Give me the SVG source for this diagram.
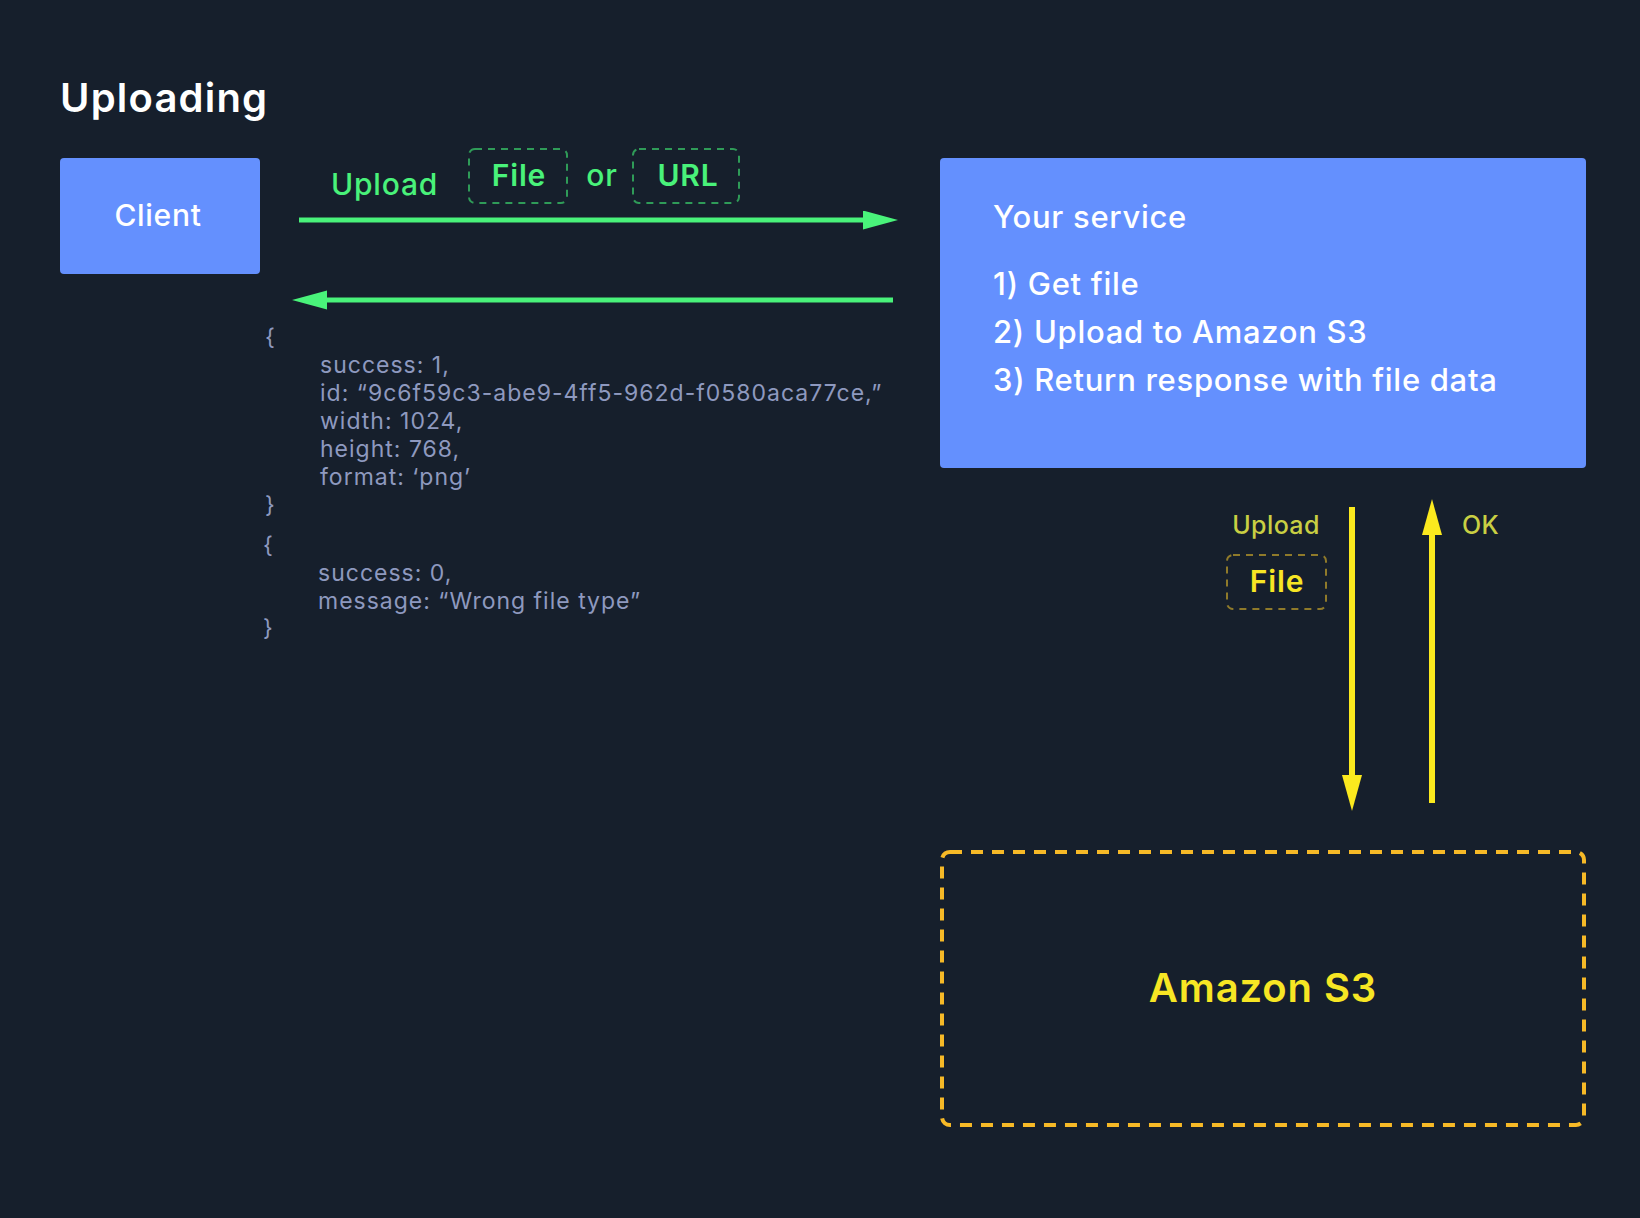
<svg xmlns="http://www.w3.org/2000/svg" width="1640" height="1218" viewBox="0 0 1640 1218">
  <defs>
    <style>
      text { font-family: Inter, "Noto Sans", "Liberation Sans", sans-serif; }
      .box { fill: #6490fe; }
      .title { fill: #ffffff; font-size: 40px; font-weight: 600; letter-spacing: 1.2px; }
      .white { fill: #ffffff; font-weight: 500; letter-spacing: 0.7px; }
      .green { fill: #49f27a; letter-spacing: 0.8px; }
      .gdash { fill: none; stroke: #2f9b58; stroke-width: 2; stroke-dasharray: 7 6; }
      .code { fill: #8e99bf; font-size: 23px; font-weight: 400; letter-spacing: 1px; }
      .ydim { fill: #c9cf43; font-size: 25px; font-weight: 500; letter-spacing: 0.4px; }
      .yel { fill: #f7e624; font-weight: 600; letter-spacing: 0.9px; }
      .ydash { fill: none; stroke: #8f7a2a; stroke-width: 2; stroke-dasharray: 7 6; }
      .s3 { fill: none; stroke: #f6b927; stroke-width: 4; stroke-dasharray: 12 9; }
      .gline { stroke: #49f27a; stroke-width: 5; fill: none; }
      .yline { stroke: #fbe91e; stroke-width: 6; fill: none; }
    </style>
    <marker id="headG" markerUnits="userSpaceOnUse" markerWidth="36" markerHeight="20" refX="0" refY="9.5" orient="auto">
      <path d="M0,0 L35,9.5 L0,19 Z" fill="#49f27a"/>
    </marker>
    <marker id="headY" markerUnits="userSpaceOnUse" markerWidth="37" markerHeight="21" refX="0" refY="10" orient="auto">
      <path d="M0,0 L36,10 L0,20 Z" fill="#fbe91e"/>
    </marker>
  </defs>

  <rect x="0" y="0" width="1640" height="1218" fill="#161f2c"/>

  <text class="title" x="60" y="112">Uploading</text>

  <g id="client">
    <rect class="box" x="60" y="158" width="200" height="116" rx="4"/>
    <text class="white" x="158" y="226" font-size="30" letter-spacing="1.2" text-anchor="middle">Client</text>
  </g>

  <g id="service">
    <rect class="box" x="940" y="158" width="646" height="310" rx="4"/>
    <text class="white" x="993" y="228" font-size="31">Your service</text>
    <text class="white" x="993" y="295" font-size="31">1) Get file</text>
    <text class="white" x="993" y="343" font-size="31">2) Upload to Amazon S3</text>
    <text class="white" x="993" y="391" font-size="31">3) Return response with file data</text>
  </g>

  <g id="s3">
    <rect class="s3" x="942" y="852" width="642" height="273" rx="8"/>
    <text class="yel" x="1263" y="1002" font-size="40" text-anchor="middle">Amazon S3</text>
  </g>

  <g id="upload-label">
    <text class="green" x="331" y="195" font-size="30" font-weight="500" letter-spacing="1.1">Upload</text>
    <rect class="gdash" x="469" y="149" width="98" height="54" rx="6"/>
    <text class="green" x="519" y="186" font-size="30" font-weight="600" text-anchor="middle">File</text>
    <text class="green" x="602" y="186" font-size="30" font-weight="500" text-anchor="middle">or</text>
    <rect class="gdash" x="633" y="149" width="106" height="54" rx="6"/>
    <text class="green" x="688" y="186" font-size="30" font-weight="600" text-anchor="middle">URL</text>
  </g>

  <g id="responses">
    <text class="code" x="265" y="345">{</text>
    <text class="code" x="320" y="373">success: 1,</text>
    <text class="code" x="320" y="401">id: “9c6f59c3-abe9-4ff5-962d-f0580aca77ce,”</text>
    <text class="code" x="320" y="429">width: 1024,</text>
    <text class="code" x="320" y="457">height: 768,</text>
    <text class="code" x="320" y="485">format: ‘png’</text>
    <text class="code" x="265" y="513">}</text>
    <text class="code" x="263" y="553">{</text>
    <text class="code" x="318" y="581">success: 0,</text>
    <text class="code" x="318" y="609">message: “Wrong file type”</text>
    <text class="code" x="263" y="636">}</text>
  </g>

  <g id="s3-labels">
    <text class="ydim" x="1276" y="534" text-anchor="middle">Upload</text>
    <rect class="ydash" x="1227" y="555" width="99" height="54" rx="6"/>
    <text class="yel" x="1277" y="592" font-size="30" letter-spacing="0.3" text-anchor="middle">File</text>
    <text class="ydim" x="1462" y="534">OK</text>
  </g>

  <g id="connectors">
    <line class="gline" x1="299" y1="220" x2="863" y2="220" marker-end="url(#headG)"/>
    <line class="gline" x1="893" y1="300" x2="327" y2="300" marker-end="url(#headG)"/>
    <line class="yline" x1="1352" y1="507" x2="1352" y2="775" marker-end="url(#headY)"/>
    <line class="yline" x1="1432" y1="803" x2="1432" y2="535" marker-end="url(#headY)"/>
  </g>
</svg>
